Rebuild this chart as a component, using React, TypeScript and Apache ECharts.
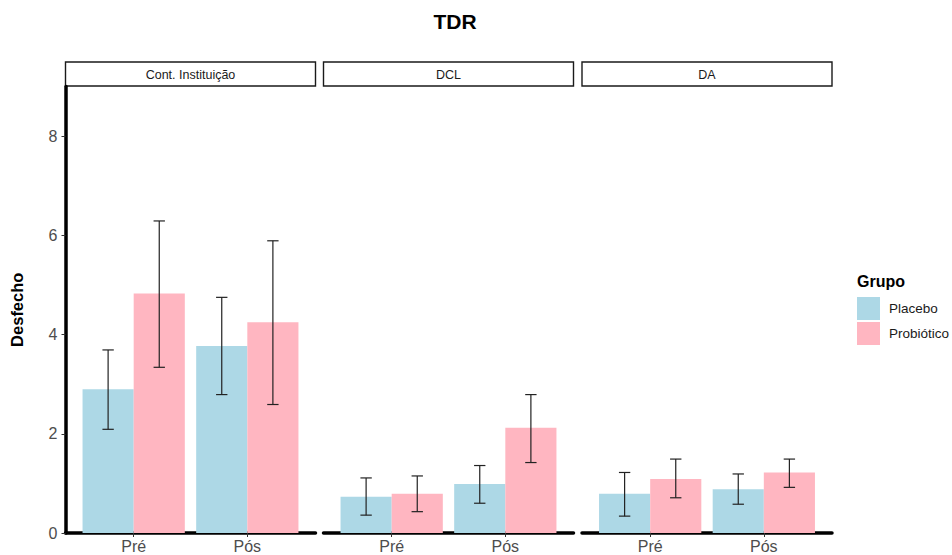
import React, { useEffect, useRef } from "react";
import * as echarts from "echarts";

const chartTitle = "TDR";
const yTitle = "Desfecho";
const legendTitle = "Grupo";
const facets = ["Cont. Instituição", "DCL", "DA"];
const categories = ["Pré", "Pós"];
const groups = ["Placebo", "Probiótico"];
const yTicks = [0, 2, 4, 6, 8];

// per facet, per category [Pré, Pós]
const placeboMean = [[2.9, 3.77], [0.73, 0.99], [0.79, 0.88]];
const placeboLow = [[2.09, 2.79], [0.36, 0.6], [0.34, 0.58]];
const placeboHigh = [[3.69, 4.75], [1.11, 1.36], [1.22, 1.19]];
const probioticoMean = [[4.83, 4.25], [0.79, 2.12], [1.09, 1.22]];
const probioticoLow = [[3.34, 2.59], [0.43, 1.42], [0.71, 0.92]];
const probioticoHigh = [[6.29, 5.89], [1.15, 2.79], [1.49, 1.49]];

const colors = ["#ADD8E6", "#FFB6C1"];
const FONT = "'Liberation Sans', Arial, Helvetica, sans-serif";

export default function App() {
  const ref = useRef<HTMLDivElement>(null);
  useEffect(() => {
    if (!ref.current) return;
    const chart = echarts.init(ref.current, undefined, { renderer: "svg" });

    const panelLeft = [65.5, 323.5, 582];
    const panelW = 250;
    const panelTop = 86.5;
    const panelH = 446.5;
    const stripTop = 62;
    const stripH = 24;
    const xMin = 0.4, xMax = 2.6;
    const dodge = 0.45;
    const barPx = (dodge * panelW) / (xMax - xMin);

    const means = [placeboMean, probioticoMean];
    const lows = [placeboLow, probioticoLow];
    const highs = [placeboHigh, probioticoHigh];

    const grid: any[] = [];
    const xAxis: any[] = [];
    const yAxis: any[] = [];
    const series: any[] = [];
    const graphic: any[] = [];

    facets.forEach((f, fi) => {
      grid.push({ left: panelLeft[fi], top: panelTop, width: panelW, height: panelH, containLabel: false });
      xAxis.push({
        type: "value",
        gridIndex: fi,
        min: xMin,
        max: xMax,
        splitLine: { show: false },
        axisLine: { show: true, onZero: false, lineStyle: { color: "#000", width: 3.5 } },
        axisTick: { show: true, length: 4, customValues: [1, 2], lineStyle: { color: "#333", width: 1 } },
        axisLabel: {
          show: true,
          customValues: [1, 2],
          formatter: (v: number) => categories[Math.round(v) - 1] ?? "",
          color: "#4D4D4D",
          fontSize: 16,
          fontFamily: FONT,
          margin: 5,
        },
      });
      yAxis.push({
        type: "value",
        gridIndex: fi,
        min: 0,
        max: 9,
        splitLine: { show: false },
        axisLine: { show: fi === 0, lineStyle: { color: "#000", width: 3.5 } },
        axisTick: { show: fi === 0, length: 4, customValues: yTicks, lineStyle: { color: "#333", width: 1 } },
        axisLabel: {
          show: fi === 0,
          customValues: yTicks,
          color: "#4D4D4D",
          fontSize: 16,
          fontFamily: FONT,
          margin: 8,
        },
        name: fi === 0 ? yTitle : "",
        nameLocation: "middle",
        nameGap: 40,
        nameTextStyle: { fontSize: 16.5, fontWeight: "bold", color: "#000", fontFamily: FONT },
      });

      groups.forEach((g, gi) => {
        const data = categories.map((_, ci) => [ci + 1 + (gi - 0.5) * dodge, means[gi][fi][ci]]);
        series.push({
          type: "bar",
          name: g,
          xAxisIndex: fi,
          yAxisIndex: fi,
          data,
          barWidth: barPx,
          barGap: "-100%",
          itemStyle: { color: colors[gi] },
          silent: true,
        });
      });

      const errData: number[][] = [];
      groups.forEach((_, gi) => {
        categories.forEach((_, ci) => {
          errData.push([ci + 1 + (gi - 0.5) * dodge, lows[gi][fi][ci], highs[gi][fi][ci]]);
        });
      });
      series.push({
        type: "custom",
        name: "err" + fi,
        xAxisIndex: fi,
        yAxisIndex: fi,
        data: errData,
        silent: true,
        z: 5,
        renderItem: (params: any, api: any) => {
          const x = api.value(0);
          const lo = api.coord([x, api.value(1)]);
          const hi = api.coord([x, api.value(2)]);
          const half = api.size([0.1, 0])[0] / 2;
          const style = { stroke: "#222", lineWidth: 1.2 };
          return {
            type: "group",
            children: [
              { type: "line", shape: { x1: lo[0], y1: lo[1], x2: hi[0], y2: hi[1] }, style },
              { type: "line", shape: { x1: hi[0] - half, y1: hi[1], x2: hi[0] + half, y2: hi[1] }, style },
              { type: "line", shape: { x1: lo[0] - half, y1: lo[1], x2: lo[0] + half, y2: lo[1] }, style },
            ],
          };
        },
      });

      graphic.push({
        type: "rect",
        shape: { x: panelLeft[fi], y: stripTop, width: panelW, height: stripH },
        style: { fill: "#fff", stroke: "#1a1a1a", lineWidth: 1.4 },
      });
      graphic.push({
        type: "text",
        x: panelLeft[fi] + panelW / 2,
        y: stripTop + stripH / 2 + 0.5,
        style: {
          text: f,
          fill: "#1A1A1A",
          fontSize: 12.5,
          fontFamily: FONT,
          align: "center",
          verticalAlign: "middle",
        },
      });
    });

    graphic.push({
      type: "text",
      x: 455,
      y: 21,
      style: { text: chartTitle, fill: "#000", fontSize: 21, fontWeight: "bold", fontFamily: FONT, align: "center", verticalAlign: "middle" },
    });
    graphic.push({
      type: "text",
      x: 857,
      y: 281,
      style: { text: legendTitle, fill: "#000", fontSize: 16, fontWeight: "bold", fontFamily: FONT, align: "left", verticalAlign: "middle" },
    });

    chart.setOption({
      animation: false,
      backgroundColor: "#fff",
      grid,
      xAxis,
      yAxis,
      series,
      graphic,
      legend: {
        data: groups,
        orient: "vertical",
        left: 857,
        top: 297,
        itemWidth: 23,
        itemHeight: 23,
        itemGap: 2,
        icon: "rect",
        selectedMode: false,
        padding: 0,
        textStyle: { fontSize: 13.5, color: "#1A1A1A", fontFamily: FONT, padding: [0, 0, 0, 4] },
      },
    });
    return () => chart.dispose();
  }, []);
  return <div ref={ref} style={{ position: "fixed", left: 0, top: 0, width: 952, height: 555 }} />;
}
